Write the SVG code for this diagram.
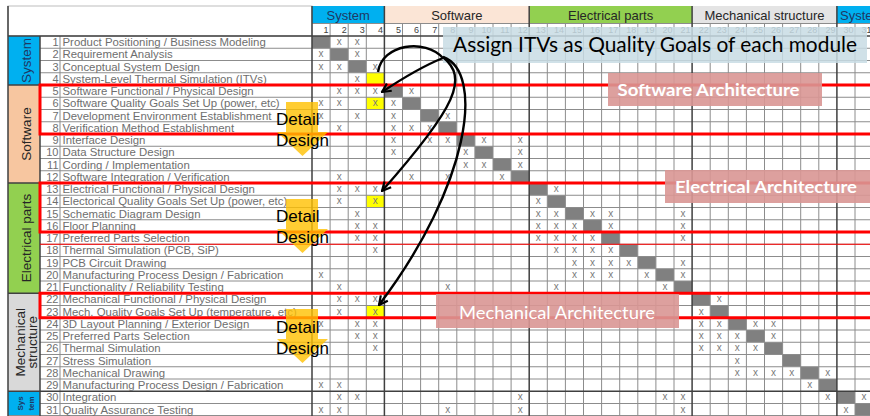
<svg xmlns="http://www.w3.org/2000/svg" width="870" height="416" viewBox="0 0 870 416">
<defs>
<style>
.lb{font:11.4px "Liberation Sans",Arial,sans-serif;fill:#6e6e6e}
.nb{font:11px "Liberation Sans",Arial,sans-serif;fill:#6e6e6e;text-anchor:end}
.m{font:10px "Liberation Sans",Arial,sans-serif;fill:#7a7a7a;text-anchor:middle}
.hn{font:9px "Liberation Sans",Arial,sans-serif;fill:#404040;text-anchor:end}
.hd{font:13px "Liberation Sans",Arial,sans-serif;text-anchor:middle;fill:#262626}
.cat{font:13.5px "Liberation Sans",Arial,sans-serif;text-anchor:middle;fill:#262626}
.dd{font:17px "Liberation Sans",Arial,sans-serif;fill:#000}
.grid{stroke:#8c8c8c;stroke-width:1;fill:none}
.grp{stroke:#404040;stroke-width:1.5;fill:none}
.red{stroke:#FF0000;stroke-width:3;fill:none}
.arr{stroke:#000;stroke-width:2.4;fill:none}
.diag{fill:#808080}
.yel{fill:#FFFF00}
.ddarrow{fill:#FFC000;opacity:0.8}
.archbox{fill:#D99694;opacity:0.9}
.archt{font:bold 17px Lato,"Liberation Sans",sans-serif;fill:#fff}
</style>
<marker id="ah" viewBox="0 0 10 10" refX="9" refY="5" markerWidth="11" markerHeight="11" markerUnits="userSpaceOnUse" orient="auto">
<path d="M1,1 L9,5 L1,9" fill="none" stroke="#000" stroke-width="2"/>
</marker>
<clipPath id="clipR"><rect x="836.9" y="6" width="33.1" height="18"/></clipPath>
</defs>
<rect width="870" height="416" fill="#fff"/>

<g id="header">
<rect x="8" y="6" width="304" height="30" fill="#fff" stroke="#bdbdbd"/>
<rect x="312" y="6" width="72.4" height="17.5" fill="#00B0F0"/>
<rect x="384.4" y="6" width="144.8" height="17.5" fill="#FBE5D6"/>
<rect x="529.2" y="6" width="162.9" height="17.5" fill="#92D050"/>
<rect x="692.1" y="6" width="144.8" height="17.5" fill="#E4E4E4"/>
<rect x="836.9" y="6" width="40" height="17.5" fill="#00B0F0"/>
<text class="hd" x="348.2" y="19.5" style="fill:#1F3864">System</text>
<text class="hd" x="456.8" y="19.5">Software</text>
<text class="hd" x="610.6" y="19.5">Electrical parts</text>
<text class="hd" x="764.5" y="19.5">Mechanical structure</text>
<text class="hd" x="840" y="19.5" style="text-anchor:start;fill:#1F3864" clip-path="url(#clipR)">System</text>
<text class="hn" y="33"><tspan x="328.6">1</tspan><tspan x="346.7">2</tspan><tspan x="364.8">3</tspan><tspan x="382.9">4</tspan><tspan x="401">5</tspan><tspan x="419.1">6</tspan><tspan x="437.2">7</tspan><tspan x="455.3">8</tspan><tspan x="473.4">9</tspan><tspan x="491.5">10</tspan><tspan x="509.6">11</tspan><tspan x="527.7">12</tspan><tspan x="545.8">13</tspan><tspan x="563.9">14</tspan><tspan x="582">15</tspan><tspan x="600.1">16</tspan><tspan x="618.2">17</tspan><tspan x="636.3">18</tspan><tspan x="654.4">19</tspan><tspan x="672.5">20</tspan><tspan x="690.6">21</tspan><tspan x="708.7">22</tspan><tspan x="726.8">23</tspan><tspan x="744.9">24</tspan><tspan x="763">25</tspan><tspan x="781.1">26</tspan><tspan x="799.2">27</tspan><tspan x="817.3">28</tspan><tspan x="835.4">29</tspan><tspan x="853.5">30</tspan><tspan x="871.6">31</tspan></text>
</g>

<g id="categories">
<rect x="8" y="36" width="32" height="49" fill="#00B0F0"/>
<rect x="8" y="85" width="32" height="98" fill="#F7C6A0"/>
<rect x="8" y="183" width="32" height="110.25" fill="#92D050"/>
<rect x="8" y="293.25" width="32" height="98" fill="#D9D9D9"/>
<rect x="8" y="391.25" width="32" height="24.5" fill="#00B0F0"/>
<text class="cat" transform="translate(30.5,60.5) rotate(-90)" style="fill:#1F3864">System</text>
<text class="cat" transform="translate(31,134) rotate(-90)">Software</text>
<text class="cat" transform="translate(31,238) rotate(-90)">Electrical parts</text>
<text class="cat" transform="translate(24.5,342.25) rotate(-90)">Mechanical</text>
<text class="cat" transform="translate(37,342.25) rotate(-90)">structure</text>
<text class="cat" transform="translate(22.5,403.5) rotate(-90)" style="font-size:8px;font-weight:bold;fill:#1F3864">Sys</text>
<text class="cat" transform="translate(34,403.5) rotate(-90)" style="font-size:8px;font-weight:bold;fill:#1F3864">tem</text>
</g>

<g id="cells">
<rect class="diag" x="312" y="36" width="18.1" height="12.25"/>
<rect class="diag" x="330.1" y="48.25" width="18.1" height="12.25"/>
<rect class="diag" x="348.2" y="60.5" width="18.1" height="12.25"/>
<rect class="diag" x="384.4" y="85" width="18.1" height="12.25"/>
<rect class="diag" x="402.5" y="97.25" width="18.1" height="12.25"/>
<rect class="diag" x="420.6" y="109.5" width="18.1" height="12.25"/>
<rect class="diag" x="438.7" y="121.75" width="18.1" height="12.25"/>
<rect class="diag" x="456.8" y="134" width="18.1" height="12.25"/>
<rect class="diag" x="474.9" y="146.25" width="18.1" height="12.25"/>
<rect class="diag" x="493" y="158.5" width="18.1" height="12.25"/>
<rect class="diag" x="511.1" y="170.75" width="18.1" height="12.25"/>
<rect class="diag" x="529.2" y="183" width="18.1" height="12.25"/>
<rect class="diag" x="547.3" y="195.25" width="18.1" height="12.25"/>
<rect class="diag" x="565.4" y="207.5" width="18.1" height="12.25"/>
<rect class="diag" x="583.5" y="219.75" width="18.1" height="12.25"/>
<rect class="diag" x="601.6" y="232" width="18.1" height="12.25"/>
<rect class="diag" x="619.7" y="244.25" width="18.1" height="12.25"/>
<rect class="diag" x="637.8" y="256.5" width="18.1" height="12.25"/>
<rect class="diag" x="655.9" y="268.75" width="18.1" height="12.25"/>
<rect class="diag" x="674" y="281" width="18.1" height="12.25"/>
<rect class="diag" x="692.1" y="293.25" width="18.1" height="12.25"/>
<rect class="diag" x="710.2" y="305.5" width="18.1" height="12.25"/>
<rect class="diag" x="728.3" y="317.75" width="18.1" height="12.25"/>
<rect class="diag" x="746.4" y="330" width="18.1" height="12.25"/>
<rect class="diag" x="764.5" y="342.25" width="18.1" height="12.25"/>
<rect class="diag" x="782.6" y="354.5" width="18.1" height="12.25"/>
<rect class="diag" x="800.7" y="366.75" width="18.1" height="12.25"/>
<rect class="diag" x="818.8" y="379" width="18.1" height="12.25"/>
<rect class="diag" x="836.9" y="391.25" width="18.1" height="12.25"/>
<rect class="diag" x="855" y="403.5" width="18.1" height="12.25"/>
<rect class="yel" x="366.3" y="72.75" width="18.1" height="12.25"/>
<rect class="yel" x="366.3" y="97.25" width="18.1" height="12.25"/>
<rect class="yel" x="366.3" y="195.25" width="18.1" height="12.25"/>
<rect class="yel" x="366.3" y="305.5" width="18.1" height="12.25"/>
</g>

<g id="grid">
<path class="grid" d="M40 48.25H873M40 60.5H873M40 72.75H873M40 97.25H873M40 109.5H873M40 121.75H873M40 134H873M40 146.25H873M40 158.5H873M40 170.75H873M40 195.25H873M40 207.5H873M40 219.75H873M40 232H873M40 244.25H873M40 256.5H873M40 268.75H873M40 281H873M40 305.5H873M40 317.75H873M40 330H873M40 342.25H873M40 354.5H873M40 366.75H873M40 379H873M40 403.5H873M8 415.5H873M312 23.5H873"/>
<path class="grid" d="M330.1 23V416M348.2 23V416M366.3 23V416M402.5 23V416M420.6 23V416M438.7 23V416M456.8 23V416M474.9 23V416M493 23V416M511.1 23V416M547.3 23V416M565.4 23V416M583.5 23V416M601.6 23V416M619.7 23V416M637.8 23V416M655.9 23V416M674 23V416M710.2 23V416M728.3 23V416M746.4 23V416M764.5 23V416M782.6 23V416M800.7 23V416M818.8 23V416M855 23V416M60 36V416"/>
<path class="grp" d="M8 36H873M8 85H873M8 183H873M8 293.25H873M8 391.25H873M312 6V416M384.4 6V416M529.2 6V416M692.1 6V416M836.9 6V416M40 36V416M8 6V416"/>
</g>

<g id="labels">
<text class="nb"><tspan x="58.5" y="46">1</tspan><tspan x="58.5" y="58.25">2</tspan><tspan x="58.5" y="70.5">3</tspan><tspan x="58.5" y="82.75">4</tspan><tspan x="58.5" y="95">5</tspan><tspan x="58.5" y="107.25">6</tspan><tspan x="58.5" y="119.5">7</tspan><tspan x="58.5" y="131.75">8</tspan><tspan x="58.5" y="144">9</tspan><tspan x="58.5" y="156.25">10</tspan><tspan x="58.5" y="168.5">11</tspan><tspan x="58.5" y="180.75">12</tspan><tspan x="58.5" y="193">13</tspan><tspan x="58.5" y="205.25">14</tspan><tspan x="58.5" y="217.5">15</tspan><tspan x="58.5" y="229.75">16</tspan><tspan x="58.5" y="242">17</tspan><tspan x="58.5" y="254.25">18</tspan><tspan x="58.5" y="266.5">19</tspan><tspan x="58.5" y="278.75">20</tspan><tspan x="58.5" y="291">21</tspan><tspan x="58.5" y="303.25">22</tspan><tspan x="58.5" y="315.5">23</tspan><tspan x="58.5" y="327.75">24</tspan><tspan x="58.5" y="340">25</tspan><tspan x="58.5" y="352.25">26</tspan><tspan x="58.5" y="364.5">27</tspan><tspan x="58.5" y="376.75">28</tspan><tspan x="58.5" y="389">29</tspan><tspan x="58.5" y="401.25">30</tspan><tspan x="58.5" y="413.5">31</tspan></text>
<text class="lb">
<tspan x="62.5" y="46">Product Positioning / Business Modeling</tspan>
<tspan x="62.5" y="58.25">Requirement Analysis</tspan>
<tspan x="62.5" y="70.5">Conceptual System Design</tspan>
<tspan x="62.5" y="82.75">System-Level Thermal Simulation (ITVs)</tspan>
<tspan x="62.5" y="95">Software Functional / Physical Design</tspan>
<tspan x="62.5" y="107.25">Software Quality Goals Set Up (power, etc)</tspan>
<tspan x="62.5" y="119.5">Development Environment Establishment</tspan>
<tspan x="62.5" y="131.75">Verification Method Establishment</tspan>
<tspan x="62.5" y="144">Interface Design</tspan>
<tspan x="62.5" y="156.25">Data Structure Design</tspan>
<tspan x="62.5" y="168.5">Cording / Implementation</tspan>
<tspan x="62.5" y="180.75">Software Integration / Verification</tspan>
<tspan x="62.5" y="193">Electrical Functional / Physical Design</tspan>
<tspan x="62.5" y="205.25">Electorical Quality Goals Set Up (power, etc)</tspan>
<tspan x="62.5" y="217.5">Schematic Diagram Design</tspan>
<tspan x="62.5" y="229.75">Floor Planning</tspan>
<tspan x="62.5" y="242">Preferred Parts Selection</tspan>
<tspan x="62.5" y="254.25">Thermal Simulation (PCB, SiP)</tspan>
<tspan x="62.5" y="266.5">PCB Circuit Drawing</tspan>
<tspan x="62.5" y="278.75">Manufacturing Process Design / Fabrication</tspan>
<tspan x="62.5" y="291">Functionality / Reliability Testing</tspan>
<tspan x="62.5" y="303.25">Mechanical Functional / Physical Design</tspan>
<tspan x="62.5" y="315.5">Mech. Quality Goals Set Up (temperature, etc)</tspan>
<tspan x="62.5" y="327.75">3D Layout Planning / Exterior Design</tspan>
<tspan x="62.5" y="340">Preferred Parts Selection</tspan>
<tspan x="62.5" y="352.25">Thermal Simulation</tspan>
<tspan x="62.5" y="364.5">Stress Simulation</tspan>
<tspan x="62.5" y="376.75">Mechanical Drawing</tspan>
<tspan x="62.5" y="389">Manufacturing Process Design / Fabrication</tspan>
<tspan x="62.5" y="401.25">Integration</tspan>
<tspan x="62.5" y="413.5">Quality Assurance Testing</tspan>
</text>
</g>

<g id="marks">
<text class="m" x="339.15 357.25" y="45">xx</text>
<text class="m" x="321.05 357.25" y="57.25">xx</text>
<text class="m" x="321.05 339.15 375.35" y="69.5">xxx</text>
<text class="m" x="357.25" y="81.75">x</text>
<text class="m" x="339.15 357.25 375.35 411.55" y="94">xxxx</text>
<text class="m" x="321.05 339.15 375.35 393.45" y="106.25">xxxx</text>
<text class="m" x="321.05 357.25 393.45 447.75" y="118.5">xxxx</text>
<text class="m" x="339.15 393.45 411.55 429.65" y="130.75">xxxx</text>
<text class="m" x="393.45 429.65 447.75 483.95 520.15" y="143">xxxxx</text>
<text class="m" x="393.45 465.85 520.15" y="155.25">xxx</text>
<text class="m" x="465.85 483.95 520.15" y="167.5">xxx</text>
<text class="m" x="339.15 411.55 447.75 502.05" y="179.75">xxxx</text>
<text class="m" x="339.15 357.25 375.35 556.35" y="192">xxxx</text>
<text class="m" x="339.15 375.35 538.25" y="204.25">xxx</text>
<text class="m" x="357.25 538.25 556.35 592.55 610.65 683.05" y="216.5">xxxxxx</text>
<text class="m" x="357.25 375.35 538.25 556.35 574.45 610.65 683.05" y="228.75">xxxxxxx</text>
<text class="m" x="357.25 375.35 538.25 556.35 574.45 592.55 683.05" y="241">xxxxxxx</text>
<text class="m" x="375.35 556.35 574.45 592.55 610.65" y="253.25">xxxxx</text>
<text class="m" x="574.45 592.55 610.65 628.75 683.05" y="265.5">xxxxx</text>
<text class="m" x="321.05 574.45 592.55 610.65 646.85 683.05" y="277.75">xxxxxx</text>
<text class="m" x="339.15 447.75 556.35 664.95" y="290">xxxx</text>
<text class="m" x="339.15 357.25 375.35 719.25" y="302.25">xxxx</text>
<text class="m" x="339.15 375.35 701.15" y="314.5">xxx</text>
<text class="m" x="321.05 357.25 375.35 701.15 719.25 755.45 773.55" y="326.75">xxxxxxx</text>
<text class="m" x="357.25 375.35 701.15 719.25 737.35 773.55" y="339">xxxxxx</text>
<text class="m" x="375.35 701.15 719.25 737.35 755.45" y="351.25">xxxxx</text>
<text class="m" x="737.35" y="363.5">x</text>
<text class="m" x="737.35 755.45 773.55 791.65 827.85" y="375.75">xxxxx</text>
<text class="m" x="321.05 339.15 809.75" y="388">xxx</text>
<text class="m" x="339.15 357.25 520.15 664.95 683.05 827.85 864.05" y="400.25">xxxxxxx</text>
<text class="m" x="321.05 339.15 447.75 520.15 683.05 845.95" y="412.5">xxxxxx</text>
</g>

<g id="red-frames">
<rect class="red" x="40" y="85" width="840" height="49"/>
<rect class="red" x="40" y="183" width="840" height="49"/>
<rect class="red" x="40" y="293.25" width="840" height="24.5"/>
<path d="M40 244.25H873" stroke="#FF0000" stroke-width="1" fill="none"/>
</g>

<g id="detail-design-1">
<polygon class="ddarrow" points="286,102 318,102 318,132 328,132 302.5,156 277,132 286,132"/>
<text class="dd" x="276" y="125">Detail</text>
<text class="dd" x="276" y="146">Design</text>
</g>
<g id="detail-design-2">
<polygon class="ddarrow" points="286,199 318,199 318,229 328,229 302.5,253 277,229 286,229"/>
<text class="dd" x="276" y="222">Detail</text>
<text class="dd" x="276" y="243">Design</text>
</g>
<g id="detail-design-3">
<polygon class="ddarrow" points="286,309 318,309 318,339 328,339 302.5,363 277,339 286,339"/>
<text class="dd" x="276" y="332.5">Detail</text>
<text class="dd" x="276" y="353.5">Design</text>
</g>

<g id="software-architecture">
<rect class="archbox" x="608" y="73" width="214" height="33"/>
<text class="archt" x="617.5" y="95.5" textLength="182" lengthAdjust="spacingAndGlyphs">Software Architecture</text>
</g>
<g id="electrical-architecture">
<rect class="archbox" x="665" y="170" width="210" height="33"/>
<text class="archt" x="675" y="193" textLength="182" lengthAdjust="spacingAndGlyphs">Electrical Architecture</text>
</g>
<g id="mechanical-architecture">
<rect class="archbox" x="436" y="294" width="243" height="34"/>
<text class="archt" x="459" y="319" style="font-weight:normal;font-size:18px" textLength="196" lengthAdjust="spacingAndGlyphs">Mechanical Architecture</text>
</g>

<g id="callout">
<rect x="443" y="27" width="424" height="36" fill="#C8DCE4" opacity="0.85"/>
<text x="453" y="52" style="font:21px Lato,'Liberation Sans',sans-serif;fill:#000" textLength="404" lengthAdjust="spacingAndGlyphs">Assign ITVs as Quality Goals of each module</text>
</g>

<g id="connectors">
<path class="arr" d="M378,72 C382,44 425,38 443,58"/>
<path class="arr" d="M443,58 Q418,68 382,92" marker-end="url(#ah)"/>
<path class="arr" d="M443,57 C468,78 458,105 382,191" marker-end="url(#ah)"/>
<path class="arr" d="M443,57 C485,72 470,185 379,305" marker-end="url(#ah)"/>
</g>
</svg>
